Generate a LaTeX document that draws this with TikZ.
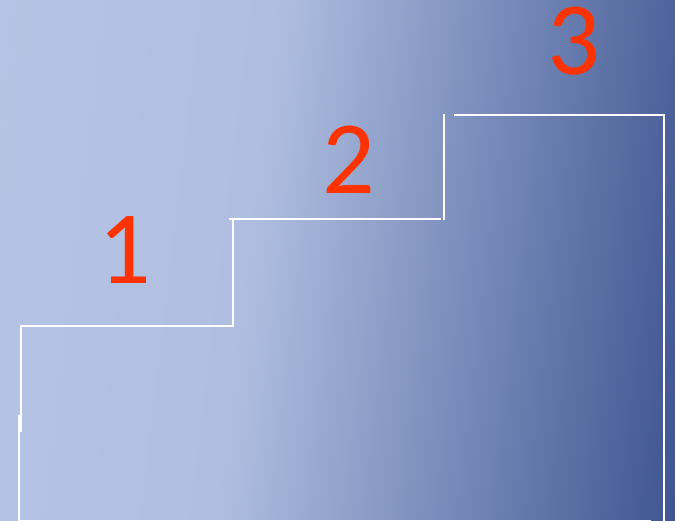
\documentclass[tikz,border=0pt]{standalone}
\usepackage{fontspec}
\setmainfont{Carlito}
\definecolor{bgA}{HTML}{B9C6E6}
\definecolor{bgB}{HTML}{B4C2E3}
\definecolor{bgC}{HTML}{B0BFE1}
\definecolor{bgD}{HTML}{3F5591}
\definecolor{digitred}{HTML}{FF3300}
\pgfdeclarehorizontalshading{bggrad}{100bp}{color(0bp)=(bgA); color(28bp)=(bgB); color(43bp)=(bgC); color(78bp)=(bgD); color(100bp)=(bgD)}
\begin{document}
\begin{tikzpicture}[x=1pt,y=-1pt,
  stair/.style={draw=white,line width=2pt},
  digit/.style={text=digitred,font=\fontsize{104}{104}\selectfont,inner sep=0pt}]
\useasboundingbox (0,0) rectangle (675,521);
\shade[shading=bggrad,shading angle=-6.8] (0,0) rectangle (675,521);
% stair corners
\coordinate (a1) at (21,326);
\coordinate (a2) at (21,432);
\coordinate (b1) at (19,415);
\coordinate (b2) at (19,521);
\coordinate (c1) at (233,326);
\coordinate (c2) at (233,219);
\coordinate (d1) at (229,219);
\coordinate (d2) at (441,219);
\coordinate (e1) at (444,220);
\coordinate (e2) at (444,114);
\coordinate (f1) at (454,115);
\coordinate (f2) at (665,115);
\coordinate (g1) at (664,115);
\coordinate (g2) at (664,521);
\coordinate (h1) at (18,520);
\coordinate (h2) at (651,520);
\draw[stair] (a2) -- (a1) -- (c1) -- (c2);
\draw[stair] (b1) -- (b2);
\draw[stair] (d1) -- (d2);
\draw[stair] (e1) -- (e2);
\draw[stair] (f1) -- (f2);
\draw[stair] (g1) -- (g2);
\draw[stair,line width=1pt] (h1) -- (h2);
\node[digit] (n1) at (125,250) {1};
\node[digit] (n2) at (349,160) {2};
\node[digit] (n3) at (574,41) {3};
\end{tikzpicture}
\end{document}
